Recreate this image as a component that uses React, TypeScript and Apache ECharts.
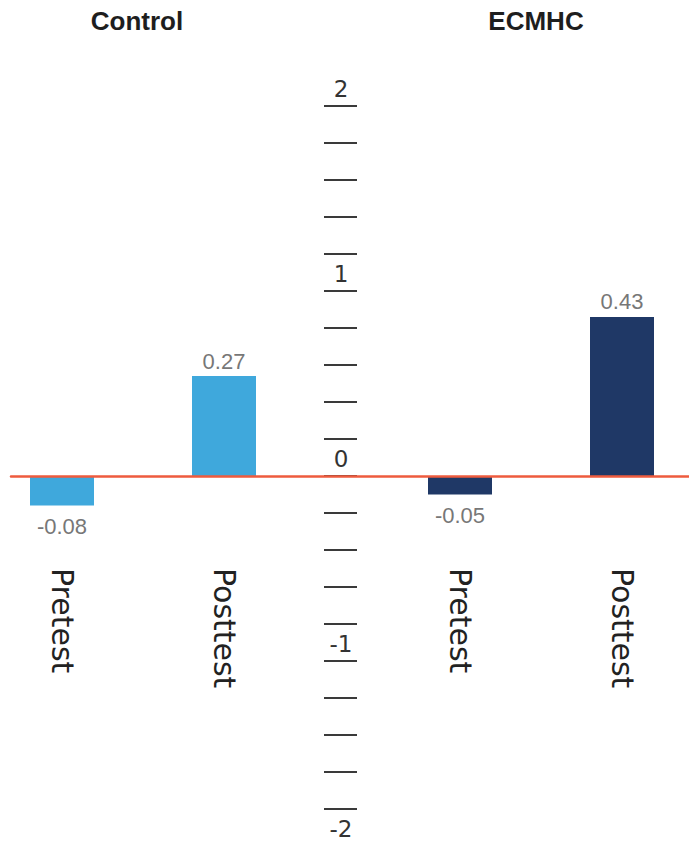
import React, { useEffect, useRef } from "react";
import * as echarts from "echarts";

const groups = ["Control", "ECMHC"];
const categories = ["Pretest", "Posttest"];
const controlValues = [-0.08, 0.27];
const ecmhcValues = [-0.05, 0.43];
const axisLabelValues = [-2, -1, 0, 1, 2];

const CONTROL_COLOR = "#3fa8dc";
const ECMHC_COLOR = "#1f3866";
const ZERO_COLOR = "#ee5b3e";

function barData(values: number[]) {
  return values.map((v) => ({
    value: v,
    label: { position: v < 0 ? "bottom" : "top", distance: v < 0 ? 10 : 4 },
  }));
}

export default function App() {
  const ref = useRef<HTMLDivElement>(null);
  useEffect(() => {
    if (!ref.current) return;
    const chart = echarts.init(ref.current, null, { renderer: "svg" });
    const barGridCommon = {
      top: 106,
      bottom: -3,
      width: 324,
      containLabel: false,
      outerBoundsMode: "none",
    };
    const catAxis = (gridIndex: number) => ({
      type: "category",
      gridIndex,
      data: categories,
      boundaryGap: true,
      position: "bottom",
      axisLine: { show: false, onZero: false },
      axisTick: { show: false },
      splitLine: { show: false },
      axisLabel: {
        rotate: -90,
        margin: -278,
        fontFamily: "DejaVu Sans",
        fontSize: 30,
        color: "#222",
      },
    });
    const hiddenY = (gridIndex: number) => ({
      type: "value",
      gridIndex,
      min: -1,
      max: 1,
      show: false,
      splitLine: { show: false },
    });
    const valueLabel = {
      show: true,
      fontFamily: "Liberation Sans",
      fontSize: 22,
      color: "#777",
      formatter: (p: any) => Number(p.value).toFixed(2),
    };
    chart.setOption({
      animation: false,
      backgroundColor: "#ffffff",
      title: [
        {
          text: groups[0],
          left: 137,
          top: 8,
          padding: 0,
          textAlign: "center",
          textStyle: { fontFamily: "Liberation Sans", fontWeight: "bold", fontSize: 26, color: "#1e1e1e" },
        },
        {
          text: groups[1],
          left: 536,
          top: 8,
          padding: 0,
          textAlign: "center",
          textStyle: { fontFamily: "Liberation Sans", fontWeight: "bold", fontSize: 26, color: "#1e1e1e" },
        },
      ],
      grid: [
        { left: 11, right: 0, top: 106, bottom: -3, containLabel: false, outerBoundsMode: "none" },
        { ...barGridCommon, left: -19 },
        { ...barGridCommon, left: 379 },
      ],
      xAxis: [
        {
          type: "value",
          gridIndex: 0,
          min: 0,
          max: 1,
          z: 5,
          axisLine: { show: true, onZero: true, lineStyle: { color: ZERO_COLOR, width: 2.5 } },
          axisTick: { show: false },
          axisLabel: { show: false },
          splitLine: { show: false },
        },
        catAxis(1),
        catAxis(2),
      ],
      yAxis: [
        {
          type: "value",
          gridIndex: 0,
          min: -2,
          max: 2,
          interval: 0.2,
          offset: -346,
          z: 1,
          axisLine: { show: false },
          splitLine: { show: false },
          axisTick: { show: true, length: 33, inside: false, lineStyle: { color: "#3a3a3a", width: 2 } },
          axisLabel: {
            customValues: axisLabelValues,
            showMinLabel: true,
            showMaxLabel: true,
            margin: 16,
            align: "center",
            verticalAlign: "bottom",
            padding: [0, 0, 6, 0],
            fontFamily: "DejaVu Sans",
            fontSize: 23,
            color: "#333",
          },
        },
        hiddenY(1),
        hiddenY(2),
      ],
      series: [
        {
          name: groups[0],
          type: "bar",
          xAxisIndex: 1,
          yAxisIndex: 1,
          barWidth: 64,
          data: barData(controlValues),
          itemStyle: { color: CONTROL_COLOR },
          label: valueLabel,
          z: 2,
        },
        {
          name: groups[1],
          type: "bar",
          xAxisIndex: 2,
          yAxisIndex: 2,
          barWidth: 64,
          data: barData(ecmhcValues),
          itemStyle: { color: ECMHC_COLOR },
          label: valueLabel,
          z: 2,
        },
      ],
    });
    return () => chart.dispose();
  }, []);
  return (
    <div
      ref={ref}
      style={{ position: "absolute", left: 0, top: 0, width: 689, height: 843 }}
    />
  );
}
